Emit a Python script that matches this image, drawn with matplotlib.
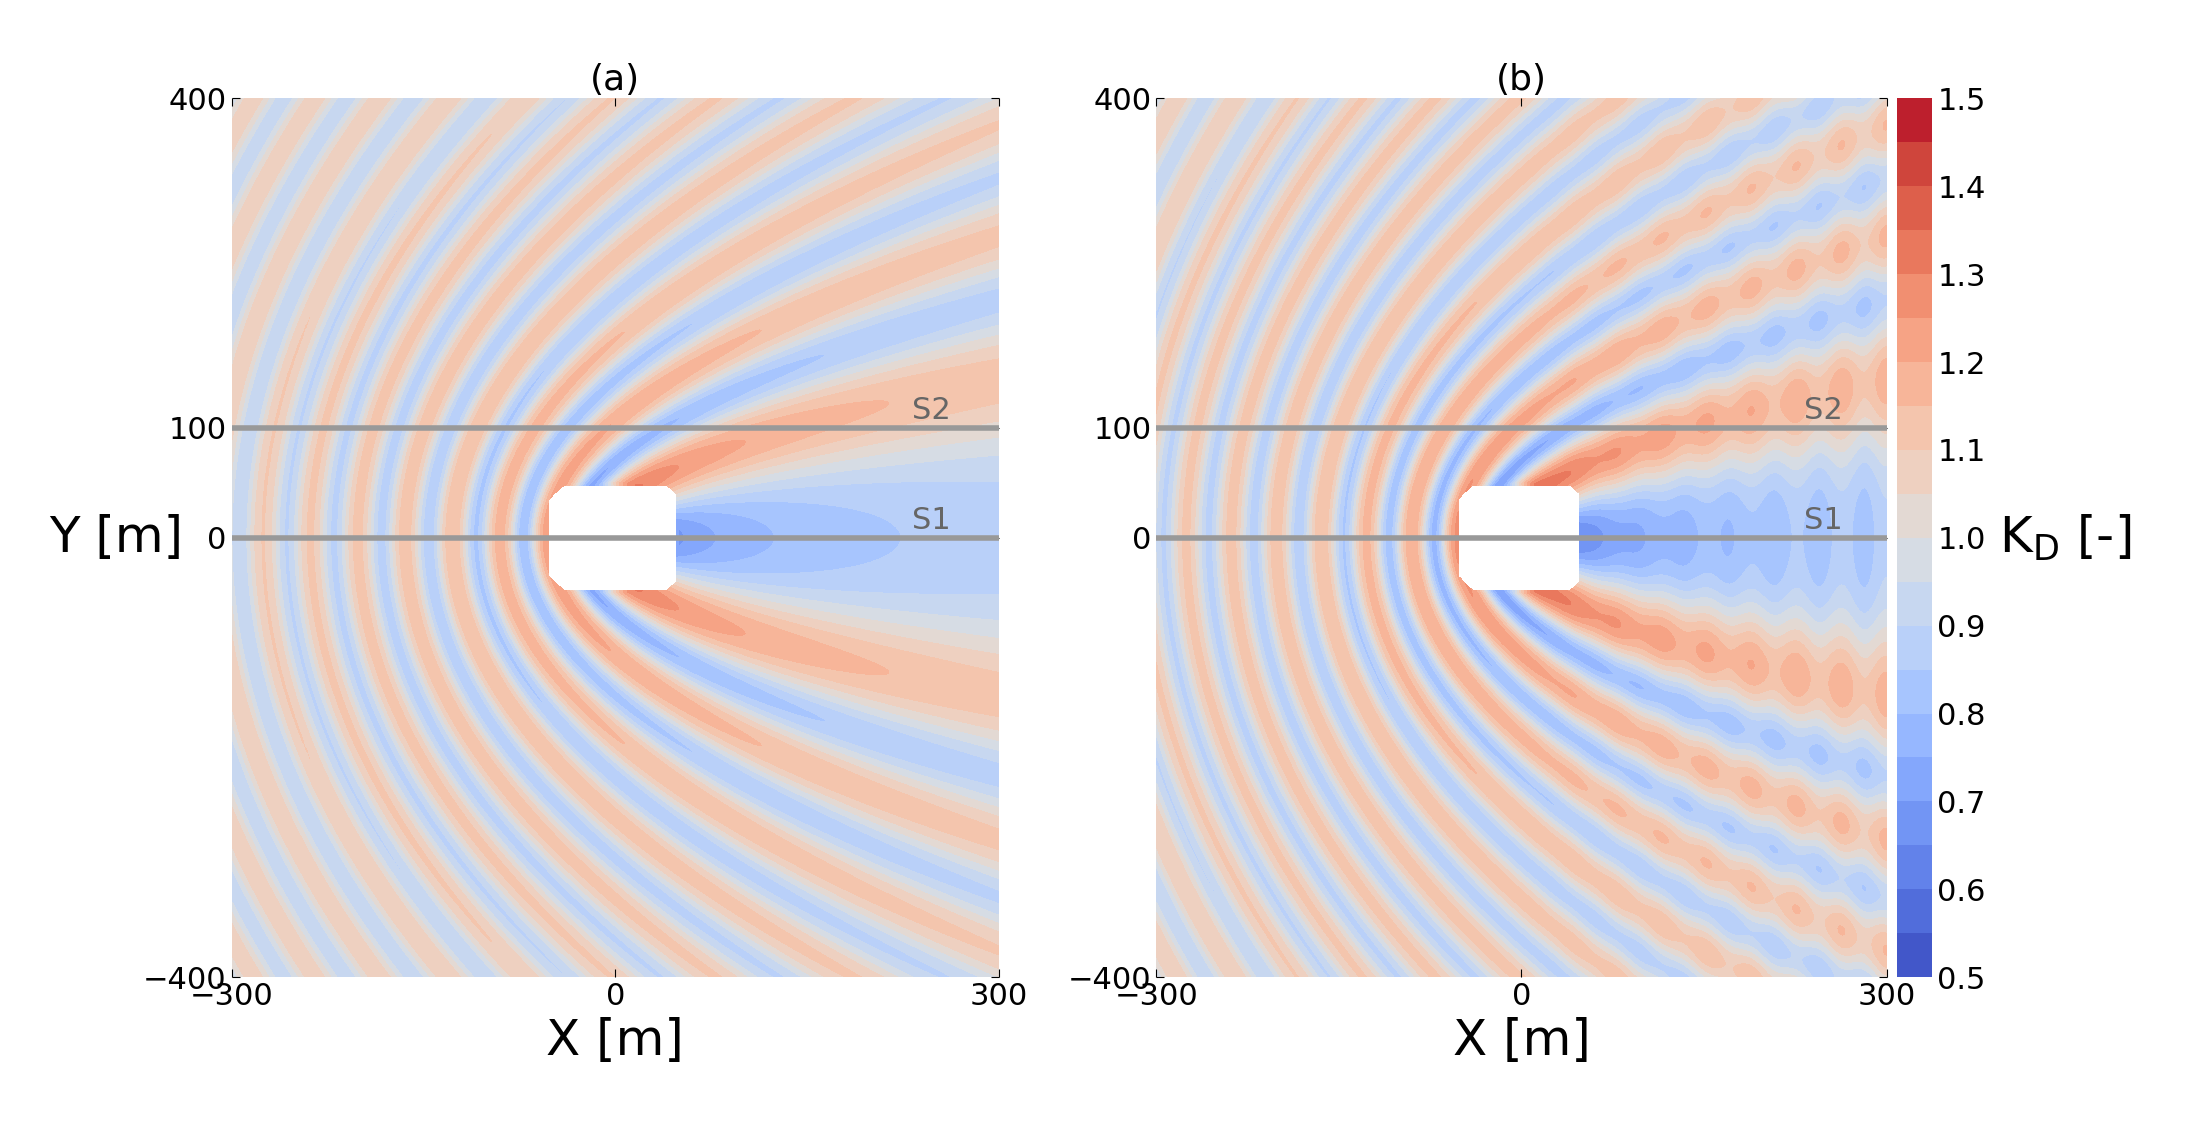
import numpy as np
import matplotlib.pyplot as plt

# model parameters for the diffraction field
wave_length = 74.0
radius = 50.0
scatter_amp = [0.34, 0.38]
ripple_amp = [0.0, 0.035]
levels = np.arange(0.5, 1.5001, 0.05)
cbar_ticks = [0.5, 0.6, 0.7, 0.8, 0.9, 1.0, 1.1, 1.2, 1.3, 1.4, 1.5]
sections = [(0, "S1"), (100, "S2")]
titles = ["(a)", "(b)"]

x = np.linspace(-300, 300, 601)
y = np.linspace(-400, 400, 801)
X, Y = np.meshgrid(x, y)
R = np.hypot(X, Y)
TH = np.arctan2(Y, X)
k = 2 * np.pi / wave_length


def field(a, rip):
    rr = np.maximum(R, radius)
    f = 0.7 + 0.3 * np.cos(TH / 2) ** 2
    w = np.exp(1j * k * X) - a * f * np.sqrt(radius / rr) * np.exp(1j * k * (rr + 4))
    K = np.abs(w)
    K = K * (1 + rip * np.cos(2 * k * (300 - X)) * (X > 0) * (X / 300))
    K = np.clip(K, 0.501, 1.499)
    K[(np.abs(X + 2) < 50) & (np.abs(Y) < 48) & (R < 62)] = np.nan
    return K


fig = plt.figure(figsize=(21.86, 11.31), dpi=100)
pos = [[0.106, 0.136, 0.351, 0.777], [0.529, 0.136, 0.334, 0.777]]
for i in range(2):
    ax = fig.add_axes(pos[i])
    cf = ax.contourf(X, Y, field(scatter_amp[i], ripple_amp[i]), levels=levels,
                     cmap="coolwarm")
    for yy, lab in sections:
        ax.axhline(yy, color="#999999", lw=4)
        ax.text(232, yy + 8, lab, fontsize=22, color="#666666", ha="left")
    ax.set_xlim(-300, 300)
    ax.set_ylim(-400, 400)
    ax.set_xticks([-300, 0, 300])
    ax.set_yticks([-400, 0, 100, 400])
    ax.set_yticklabels(["\u2212400", "0", "100", "400"])
    ax.set_xticklabels(["\u2212300", "0", "300"])
    ax.tick_params(direction="in", top=True, right=True, labelsize=22, length=6)
    for s in ax.spines.values():
        s.set_visible(False)
    ax.set_title(titles[i], fontsize=26)
    ax.set_xlabel("X [m]", fontsize=36)
    if i == 0:
        ax.set_ylabel("Y [m]", fontsize=36, rotation=0, labelpad=10, va="center")
        ax.yaxis.set_label_coords(-0.15, 0.5)

cax = fig.add_axes([0.868, 0.136, 0.016, 0.777])
cb = fig.colorbar(cf, cax=cax, ticks=cbar_ticks)
cb.outline.set_visible(False)
cb.ax.tick_params(labelsize=22, length=0)
cb.set_label("K$_\\mathrm{D}$ [-]", fontsize=36, rotation=0, labelpad=20, va="center")
cb.ax.yaxis.set_label_coords(4.8, 0.5)

fig.savefig("out.png", dpi=100)
